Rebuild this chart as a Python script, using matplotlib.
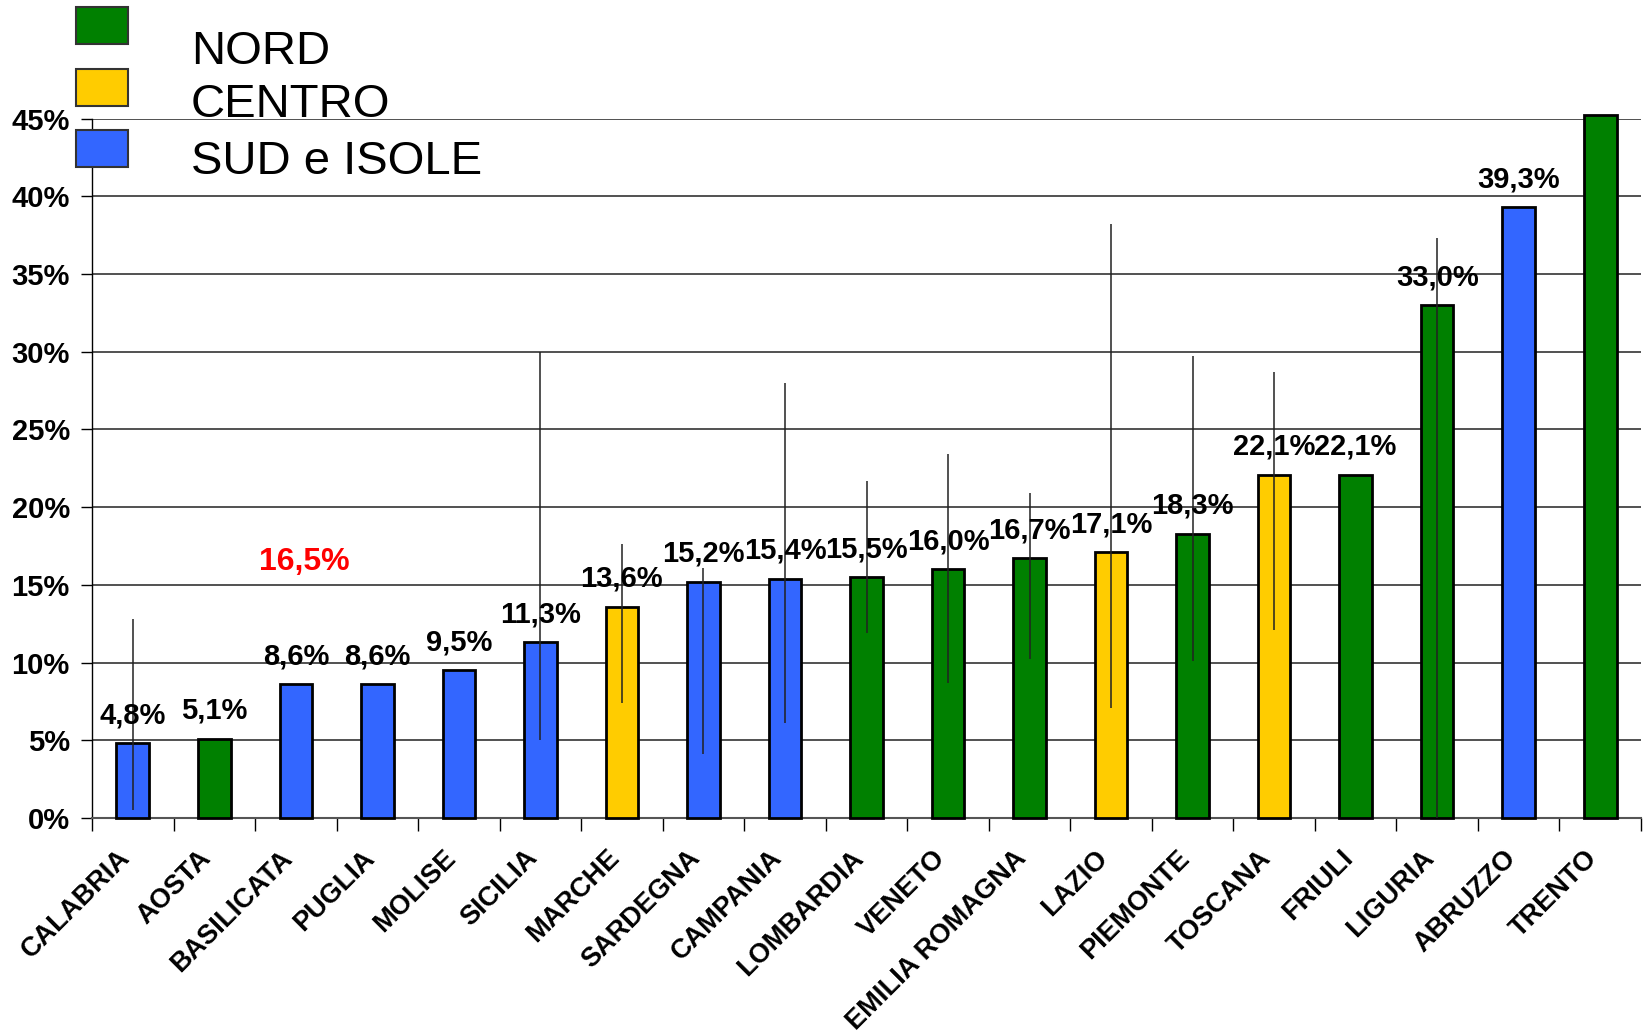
import numpy as np
import matplotlib
matplotlib.use("Agg")
import matplotlib.pyplot as plt
import matplotlib.transforms as mtransforms
from matplotlib.patches import Rectangle
from matplotlib.ticker import FuncFormatter

plt.rcParams["font.family"] = ["Liberation Sans", "DejaVu Sans"]

# ------------------------------------------------------------------ #
# Data                                                                #
# ------------------------------------------------------------------ #

regions = ["CALABRIA", "AOSTA", "BASILICATA", "PUGLIA", "MOLISE", "SICILIA",
           "MARCHE", "SARDEGNA", "CAMPANIA", "LOMBARDIA", "VENETO",
           "EMILIA ROMAGNA", "LAZIO", "PIEMONTE", "TOSCANA", "FRIULI",
           "LIGURIA", "ABRUZZO", "TRENTO"]
values = [4.8, 5.1, 8.6, 8.6, 9.5, 11.3, 13.6, 15.2, 15.4, 15.5, 16.0,
          16.7, 17.1, 18.3, 22.1, 22.1, 33.0, 39.3, 45.2]
area = ["S", "N", "S", "S", "S", "S", "C", "S", "S", "N", "N",
        "N", "C", "N", "C", "N", "N", "S", "N"]
show_label = [True] * 18 + [False]

# range lines (low, high), None where absent
err_low = [0.5, None, None, None, None, 5.0, 7.4, 4.1, 6.1, 11.9, 8.7,
           10.2, 7.1, 10.1, 12.1, None, 0.0, None, None]
err_high = [12.8, None, None, None, None, 30.0, 17.6, 16.1, 28.0, 21.7, 23.4,
            20.9, 38.2, 29.7, 28.7, None, 37.3, None, None]

mean_value = 16.5
mean_pos = 2.1

area_colors = {"N": "#008000", "C": "#FFCC00", "S": "#3366FF"}
legend_names = [("N", "NORD"), ("C", "CENTRO"), ("S", "SUD e ISOLE")]

W, H = 1646, 1036

# ------------------------------------------------------------------ #
# Plot                                                                #
# ------------------------------------------------------------------ #

fig = plt.figure(figsize=(W / 100, H / 100), dpi=100)
ax = fig.add_axes([92 / W, 1 - 818 / H, (1641 - 92) / W, (818 - 118.6) / H])

x = np.arange(len(regions))
vals = np.array(values) / 100
bars = ax.bar(x, vals, width=0.4, color=[area_colors[a] for a in area],
              edgecolor="black", linewidth=2, zorder=3, clip_on=False)

for i, (lo, hi) in enumerate(zip(err_low, err_high)):
    if lo is None:
        continue
    ax.vlines(i, lo / 100, hi / 100, color="#222222", linewidth=1.1, zorder=4)

for i, v in enumerate(values):
    if not show_label[i]:
        continue
    ax.annotate(f"{v:.1f}".replace(".", ",") + "%", (i, v / 100),
                xytext=(0, 20), textcoords="offset pixels",
                ha="center", va="baseline", fontsize=21, fontweight="bold",
                zorder=5)

ax.text(mean_pos, mean_value / 100, f"{mean_value:.1f}".replace(".", ",") + "%",
        ha="center", va="center", color="red", fontsize=23, fontweight="bold")

ax.set_xlim(-0.5, len(regions) - 0.5)
ax.set_ylim(0, 0.45)
ax.set_yticks(np.arange(0, 0.451, 0.05))
ax.yaxis.set_major_formatter(FuncFormatter(lambda v, _: f"{v * 100:.0f}%"))
ax.grid(axis="y", color="#222222", linewidth=1.1, zorder=0)
ax.set_axisbelow(True)

# category labels: rotated text under each category, nudged left/down
ax.set_xticks(x)
ax.set_xticklabels([])
lab_trans = ax.get_xaxis_transform() + mtransforms.ScaledTranslation(
    -16 / 100, -27 / 100, fig.dpi_scale_trans)
for i, name in enumerate(regions):
    ax.text(i, 0, name, transform=lab_trans, rotation=45,
            rotation_mode="anchor", ha="right", va="top",
            fontsize=19.5, fontweight="bold")

ax.set_xticks(np.arange(-0.5, len(regions)), minor=True)
ax.tick_params(axis="x", which="major", length=0)
ax.tick_params(axis="x", which="minor", length=9, width=1, direction="out")
ax.tick_params(axis="y", length=8, width=1, pad=8, labelsize=21)
for lab in ax.get_yticklabels():
    lab.set_fontweight("bold")

for side in ["top", "right"]:
    ax.spines[side].set_visible(False)
ax.spines["left"].set_linewidth(1)
ax.spines["bottom"].set_color("#555555")
ax.spines["bottom"].set_linewidth(1.5)

# legend block drawn in figure pixels
sq_tops = [7, 69, 130]
baselines = [64, 117, 174]
for (key, name), top, base in zip(legend_names, sq_tops, baselines):
    fig.patches.append(Rectangle((76 / W, 1 - (top + 37) / H), 52 / W, 37 / H,
                                 transform=fig.transFigure,
                                 facecolor=area_colors[key],
                                 edgecolor="#333333", linewidth=1.5))
    fig.text(191 / W, 1 - base / H, name, fontsize=34, va="baseline", ha="left")

fig.savefig("out.png", dpi=100)
